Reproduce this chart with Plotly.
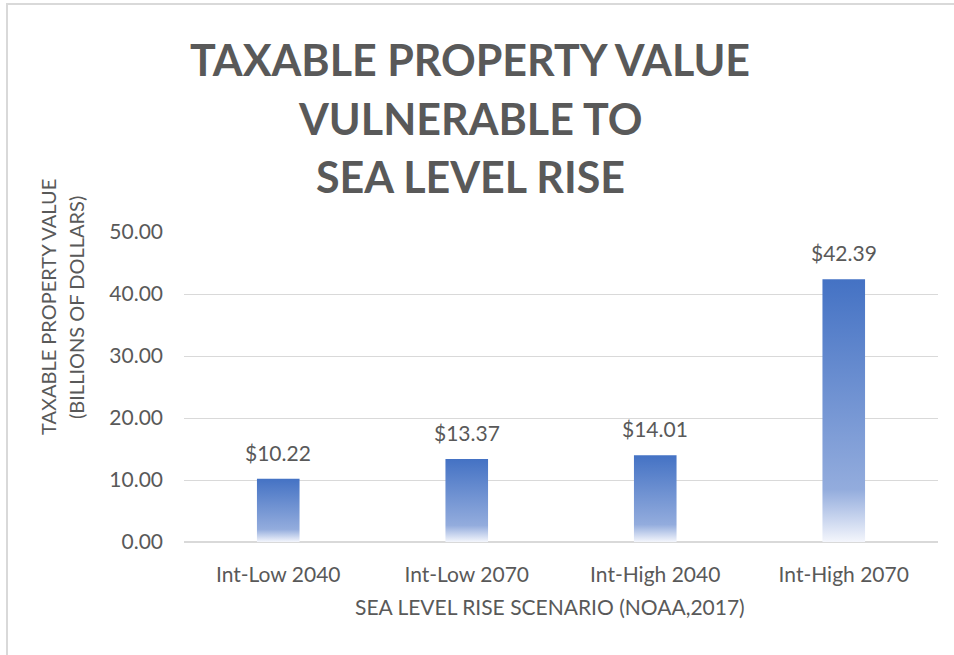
import plotly.graph_objects as go

# Scenario data (billions of dollars)
scenarios = ["Int-Low 2040", "Int-Low 2070", "Int-High 2040", "Int-High 2070"]
values = [10.22, 13.37, 14.01, 42.39]
y_ticks = [0, 10, 20, 30, 40, 50]

title_lines = ["TAXABLE PROPERTY VALUE", "VULNERABLE TO", "SEA LEVEL RISE"]
y_title_lines = ["TAXABLE PROPERTY VALUE", "(BILLIONS OF DOLLARS)"]
x_title = "SEA LEVEL RISE SCENARIO (NOAA,2017)"

W, H = 954, 655
L, R, T, B = 184, 16, 232, 113
PW, PH = W - L - R, H - T - B

TEXT = "#595959"
GRID = "#D9D9D9"
FONT = "Lato"
HALF = 0.113  # half bar width in category units

# gradient: white at the base, fading into the accent blue at the top
grad = [[0.0, "#F4F6FC"], [0.2, "#93ACDD"], [1.0, "#4472C4"]]


def px_x(px):
    return (px - L) / PW


def px_y(py):
    return (H - B - py) / PH


fig = go.Figure()

for i, v in enumerate(values):
    fig.add_trace(go.Scatter(
        x=[i - HALF, i + HALF, i + HALF, i - HALF, i - HALF],
        y=[0, 0, v, v, 0],
        mode="lines",
        fill="toself",
        line=dict(width=0),
        fillgradient=dict(type="vertical", colorscale=grad),
        hoverinfo="skip",
        showlegend=False,
    ))

annotations = []

# value labels above each bar
for i, v in enumerate(values):
    annotations.append(dict(
        x=i, y=v, xref="x", yref="y", text=f"${v:.2f}",
        showarrow=False, yanchor="bottom", yshift=12,
        font=dict(family=FONT, size=21, color=TEXT),
    ))

# chart title, one annotation per line
for line, cy in zip(title_lines, [60, 118, 177]):
    annotations.append(dict(
        x=px_x(470), y=px_y(cy), xref="paper", yref="paper",
        text=f"<b>{line}</b>", showarrow=False,
        xanchor="center", yanchor="middle",
        font=dict(family=FONT, size=43, color=TEXT),
    ))

# y-axis title (two rotated lines)
for line, cx in zip(y_title_lines, [48, 76]):
    annotations.append(dict(
        x=px_x(cx), y=px_y(307), xref="paper", yref="paper",
        text=line, showarrow=False, textangle=-90,
        xanchor="center", yanchor="middle",
        font=dict(family=FONT, size=20, color=TEXT),
    ))

# x-axis title
annotations.append(dict(
    x=px_x(550), y=px_y(606), xref="paper", yref="paper",
    text=x_title, showarrow=False, xanchor="center", yanchor="middle",
    font=dict(family=FONT, size=21, color=TEXT),
))

# light chart-area border on the left and top edges
shapes = [
    dict(type="line", xref="paper", yref="paper",
         x0=px_x(7), x1=px_x(7), y0=px_y(3), y1=px_y(H + 5),
         line=dict(color=GRID, width=2)),
    dict(type="line", xref="paper", yref="paper",
         x0=px_x(6), x1=px_x(W + 5), y0=px_y(4), y1=px_y(4),
         line=dict(color=GRID, width=2)),
]

fig.update_layout(
    width=W, height=H,
    margin=dict(l=L, r=R, t=T, b=B, pad=0),
    paper_bgcolor="white", plot_bgcolor="white",
    annotations=annotations, shapes=shapes,
    xaxis=dict(
        range=[-0.5, len(scenarios) - 0.5],
        tickvals=list(range(len(scenarios))), ticktext=scenarios,
        showgrid=False, zeroline=False, showline=False, ticks="",
        ticklabelstandoff=18,
        tickfont=dict(family=FONT, size=21, color=TEXT),
        fixedrange=True,
    ),
    yaxis=dict(
        range=[0, 50], tickvals=y_ticks, tickformat=".2f",
        showgrid=True, gridcolor=GRID, gridwidth=1,
        zeroline=True, zerolinecolor=GRID, zerolinewidth=2,
        showline=False, ticks="", ticklabelstandoff=20,
        tickfont=dict(family=FONT, size=21, color=TEXT),
        fixedrange=True,
    ),
)

fig.write_html("out.html")
